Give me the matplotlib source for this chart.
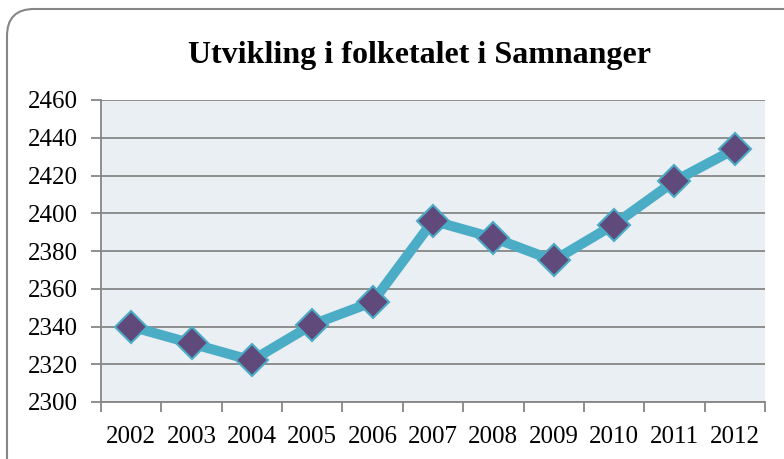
import matplotlib
matplotlib.use("Agg")
import matplotlib.pyplot as plt
from matplotlib.patches import FancyBboxPatch
import numpy as np

years = ["2002", "2003", "2004", "2005", "2006", "2007", "2008", "2009", "2010", "2011", "2012"]
population = [2340, 2331, 2322, 2341, 2353, 2396, 2387, 2375, 2394, 2417, 2434]
yticks = [2300, 2320, 2340, 2360, 2380, 2400, 2420, 2440, 2460]

plt.rcParams["font.family"] = ["Liberation Serif", "DejaVu Serif"]

fig = plt.figure(figsize=(7.84, 4.59), dpi=100)
W, H = 784, 459

# rounded chart frame (inches)
frame = FancyBboxPatch((0.07, -1.0), 10.0, (H - 9) / 100 + 1.0,
                       boxstyle="round,pad=0,rounding_size=0.27",
                       transform=fig.dpi_scale_trans, facecolor="none",
                       edgecolor="#868686", linewidth=1.5, zorder=-1)
fig.patches.append(frame)

ax = fig.add_axes([101 / W, 1 - 402 / H, (765 - 101) / W, (402 - 100) / H])
ax.set_facecolor("#E9EFF3")

x = np.arange(len(years))
ax.plot(x, population, color="#4BACC6", linewidth=7.2, marker="D",
        markersize=16, markerfacecolor="#604A7B", markeredgecolor="#4BACC6",
        markeredgewidth=1.5, zorder=3, solid_joinstyle="round")

ax.set_xlim(-0.5, len(years) - 0.5)
ax.set_ylim(2300, 2460)
ax.set_yticks(yticks)
ax.set_yticklabels([str(v) for v in yticks])
ax.set_xticks(x)
ax.set_xticklabels(years)
ax.set_xticks(np.arange(-0.5, len(years), 1.0), minor=True)

ax.grid(axis="y", color="#868686", linewidth=1.3, zorder=1)
ax.set_axisbelow(True)

for s in ["top", "right"]:
    ax.spines[s].set_visible(False)
for s in ["left", "bottom"]:
    ax.spines[s].set_color("#868686")
    ax.spines[s].set_linewidth(1.3)

ax.tick_params(axis="y", length=7, width=1.3, color="#868686", labelsize=18, pad=10)
ax.tick_params(axis="x", which="major", length=0, labelsize=18, pad=17)
ax.tick_params(axis="x", which="minor", length=7, width=1.3, color="#868686")

fig.text(420 / W, 1 - 55 / H, "Utvikling i folketalet i Samnanger",
         ha="center", va="center", fontsize=23, fontweight="bold")

fig.savefig("out.png", dpi=100)
